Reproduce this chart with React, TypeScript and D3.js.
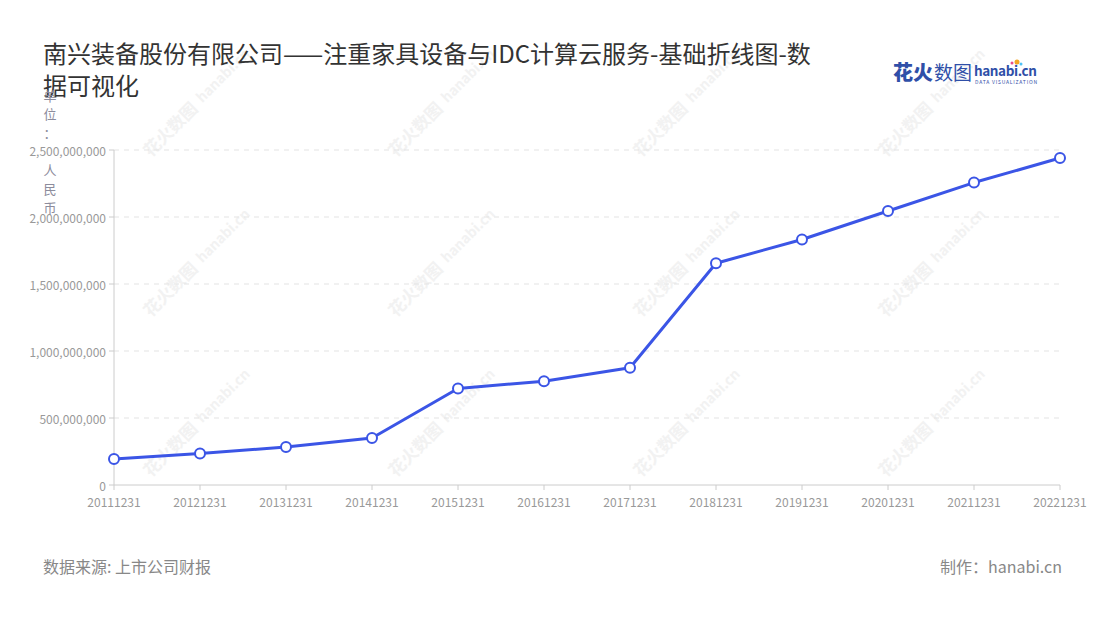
import React from "react";
import * as d3 from "d3";

const categories = ["20111231","20121231","20131231","20141231","20151231","20161231","20171231","20181231","20191231","20201231","20211231","20221231"];
const values = [194000000, 235000000, 284000000, 351000000, 720000000, 775000000, 875000000, 1655000000, 1832000000, 2045000000, 2257000000, 2440000000];
const yTicks = [0, 500000000, 1000000000, 1500000000, 2000000000, 2500000000];
const titleLines = ["南兴装备股份有限公司——注重家具设备与IDC计算云服务-基础折线图-数", "据可视化"];
const unitChars = ["单", "位", "：", "", "人", "民", "币"];
const sourceText = "数据来源: 上市公司财报";
const makerText = "制作：hanabi.cn";

const W = 1100, H = 620;
const left = 114, right = 1060, top = 150, bottom = 485;
const FONT = "'Noto Sans CJK SC', 'Noto Sans', sans-serif";

export default function App() {
  const x = d3.scalePoint<string>().domain(categories).range([left, right]);
  const y = d3.scaleLinear().domain([0, 2500000000]).range([bottom, top]);
  const line = d3.line<number>().x((_, i) => x(categories[i]) as number).y((d) => y(d));
  const fmt = d3.format(",");

  const wmX = [150, 395, 640, 885];
  const wmY = [150, 310, 470];
  const wms: { x: number; y: number }[] = [];
  wmX.forEach((a) => wmY.forEach((b) => wms.push({ x: a, y: b })));

  return (
    <svg width={W} height={H} style={{ position: "absolute", left: 0, top: 0, background: "#fff" }} fontFamily={FONT}>
      <rect x={0} y={0} width={W} height={H} fill="#fff" />
      {/* watermarks */}
      {wms.map((p, i) => (
        <g key={i} transform={`translate(${p.x},${p.y}) rotate(-45)`} opacity={0.5}>
          <text x={-5} y={6} fontSize={17} fontWeight={700} fill="#e6e6e6">花火数图</text>
          <text x={70} y={4} fontSize={14} fontWeight={700} fill="#e6e6e6">hanabi.cn</text>
        </g>
      ))}
      {/* title */}
      {titleLines.map((t, i) => (
        <text key={i} x={43} y={63 + i * 32} fontSize={24} fill="#333">{t}</text>
      ))}
      {/* logo */}
      <text x={893} y={80} fontSize={20} fontWeight={900} fill="#2f4fa8">花火</text>
      <text x={934} y={80} fontSize={19} fill="#2f4fa8">数图</text>
      <text x={974} y={76} fontSize={13.5} fontWeight={700} fill="#2f4fa8" textLength={63}>hanabi.cn</text>
      <circle cx={1017} cy={62} r={2.5} fill="#f5a623" />
      <circle cx={1012} cy={63} r={1.5} fill="#e94f8a" />
      <circle cx={1021} cy={64} r={1.5} fill="#4fc3f7" />
      <text x={975} y={84} fontSize={5} fill="#2f4fa8" textLength={62}>DATA VISUALIZATION</text>
      {/* unit label */}
      {unitChars.map((c, i) => (
        <text key={i} x={50} y={95 + i * 18.7} fontSize={13} fill="#8c8c9c" textAnchor="middle" dominantBaseline="central">{c}</text>
      ))}
      {/* grid */}
      {yTicks.filter((v) => v > 0).map((v) => (
        <line key={v} x1={left} x2={right} y1={y(v)} y2={y(v)} stroke="#e3e3e3" strokeDasharray="5,5" />
      ))}
      {/* y axis */}
      <line x1={left} x2={left} y1={top} y2={bottom} stroke="#ccc" />
      {yTicks.map((v) => (
        <g key={v}>
          <line x1={left - 5} x2={left} y1={y(v)} y2={y(v)} stroke="#ccc" />
          <text x={left - 8} y={y(v)} fontSize={12} fill="#999" textAnchor="end" dominantBaseline="central">{fmt(v)}</text>
        </g>
      ))}
      {/* x axis */}
      <line x1={left} x2={right} y1={bottom} y2={bottom} stroke="#ccc" />
      {categories.map((c) => (
        <g key={c}>
          <line x1={x(c)} x2={x(c)} y1={bottom} y2={bottom + 5} stroke="#ccc" />
          <text x={x(c)} y={501} fontSize={12} fill="#999" textAnchor="middle" dominantBaseline="central">{c}</text>
        </g>
      ))}
      {/* line */}
      <path d={line(values) || ""} fill="none" stroke="#3b55e6" strokeWidth={3} strokeLinejoin="round" />
      {values.map((v, i) => (
        <circle key={i} cx={x(categories[i])} cy={y(v)} r={5} fill="#fff" stroke="#3b55e6" strokeWidth={2} />
      ))}
      {/* footer */}
      <text x={43} y={573} fontSize={16} fill="#888">{sourceText}</text>
      <text x={1062} y={573} fontSize={16} fill="#888" textAnchor="end">{makerText}</text>
    </svg>
  );
}
